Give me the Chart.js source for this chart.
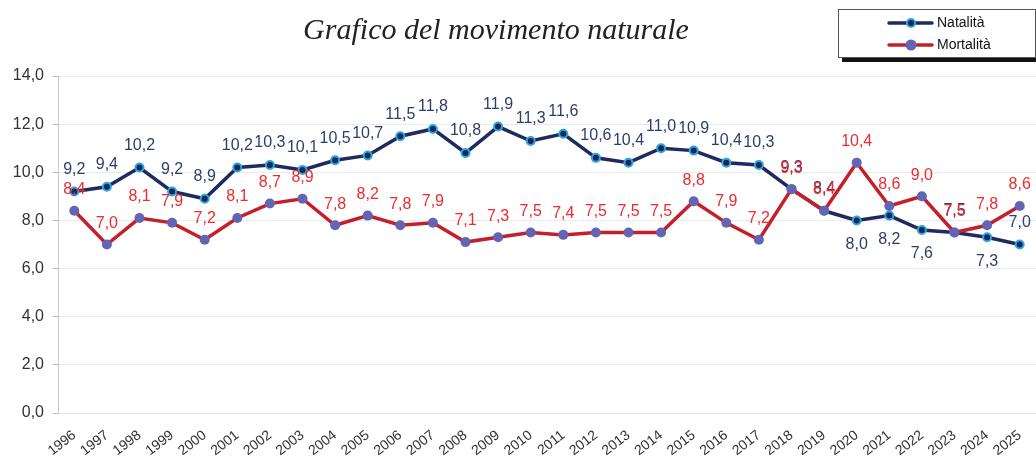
<!DOCTYPE html>
<html lang="it">
<head>
    <meta charset="UTF-8">
    <title>Grafico del movimento naturale</title>
    <script src="https://cdn.jsdelivr.net/npm/chart.js"></script>
    <style>
        body {
            margin: 0;
            padding: 0;
            background: #fff;
        }
        .wrap {
            position: relative;
            width: 1036px;
            height: 459px;
        }
    </style>
</head>
<body>
    <div class="wrap">
        <canvas id="movChart"></canvas>
    </div>

    <script>
        // Data
        const years = ["1996", "1997", "1998", "1999", "2000", "2001", "2002", "2003", "2004", "2005",
            "2006", "2007", "2008", "2009", "2010", "2011", "2012", "2013", "2014", "2015",
            "2016", "2017", "2018", "2019", "2020", "2021", "2022", "2023", "2024", "2025"];

        const natalita = [9.2, 9.4, 10.2, 9.2, 8.9, 10.2, 10.3, 10.1, 10.5, 10.7,
            11.5, 11.8, 10.8, 11.9, 11.3, 11.6, 10.6, 10.4, 11.0, 10.9,
            10.4, 10.3, 9.3, 8.4, 8.0, 8.2, 7.6, 7.5, 7.3, 7.0];

        const mortalita = [8.4, 7.0, 8.1, 7.9, 7.2, 8.1, 8.7, 8.9, 7.8, 8.2,
            7.8, 7.9, 7.1, 7.3, 7.5, 7.4, 7.5, 7.5, 7.5, 8.8,
            7.9, 7.2, 9.3, 8.4, 10.4, 8.6, 9.0, 7.5, 7.8, 8.6];

        // years where the birth-rate label sits under the point
        const natalitaBelow = ["2020", "2021", "2022", "2024"];

        const fmt = v => v.toFixed(1).replace(".", ",");

        // Value labels, title and boxed legend
        const extrasPlugin = {
            id: "extras",
            afterDatasetsDraw(chart) {
                const ctx = chart.ctx;
                ctx.save();
                ctx.font = '16px "Liberation Sans", Arial, sans-serif';
                ctx.textAlign = "center";
                ctx.textBaseline = "middle";

                const metaN = chart.getDatasetMeta(0);
                ctx.fillStyle = "#2b3e6c";
                metaN.data.forEach((pt, i) => {
                    const below = natalitaBelow.includes(years[i]);
                    ctx.fillText(fmt(natalita[i]), pt.x, below ? pt.y + 24 : pt.y - 22);
                });

                const metaM = chart.getDatasetMeta(1);
                ctx.fillStyle = "#ee2b2e";
                metaM.data.forEach((pt, i) => {
                    ctx.fillText(fmt(mortalita[i]), pt.x, pt.y - 21);
                });
                ctx.restore();
            },
            afterDraw(chart) {
                const ctx = chart.ctx;
                ctx.save();

                // title
                ctx.font = 'italic 30px "Liberation Serif", "Times New Roman", serif';
                ctx.fillStyle = "#222";
                ctx.textAlign = "center";
                ctx.textBaseline = "alphabetic";
                ctx.fillText("Grafico del movimento naturale", 496, 39);

                // legend box with shadow
                ctx.fillStyle = "#111";
                ctx.fillRect(842, 57, 194, 5);
                ctx.fillStyle = "#fff";
                ctx.fillRect(838.5, 9.5, 197, 48);
                ctx.strokeStyle = "#555";
                ctx.lineWidth = 1;
                ctx.strokeRect(838.5, 9.5, 197, 48);

                const items = [
                    { text: "Natalità", line: "#1f2a5e", fill: "#1b2557", ring: "#2aa7df", r: 4, y: 23 },
                    { text: "Mortalità", line: "#c4202b", fill: "#6464b4", ring: "#6464b4", r: 4.5, y: 45 }
                ];
                items.forEach(it => {
                    ctx.strokeStyle = it.line;
                    ctx.lineWidth = 3.5;
                    ctx.lineCap = "round";
                    ctx.beginPath();
                    ctx.moveTo(889, it.y);
                    ctx.lineTo(932, it.y);
                    ctx.stroke();
                    ctx.beginPath();
                    ctx.arc(911, it.y, it.r, 0, Math.PI * 2);
                    ctx.fillStyle = it.fill;
                    ctx.fill();
                    ctx.lineWidth = 2;
                    ctx.strokeStyle = it.ring;
                    ctx.stroke();
                    ctx.fillStyle = "#111";
                    ctx.font = '14px "Liberation Sans", Arial, sans-serif';
                    ctx.textAlign = "left";
                    ctx.textBaseline = "middle";
                    ctx.fillText(it.text, 937, it.y);
                });
                ctx.restore();
            }
        };

        const ctx = document.getElementById("movChart").getContext("2d");
        const movChart = new Chart(ctx, {
            type: "line",
            data: {
                labels: years,
                datasets: [
                    {
                        label: "Natalità",
                        data: natalita,
                        borderColor: "#1f2a5e",
                        borderWidth: 3.5,
                        pointRadius: 4,
                        pointBorderWidth: 2,
                        pointBackgroundColor: "#1b2557",
                        pointBorderColor: "#2aa7df",
                        tension: 0,
                        clip: false,
                        order: 2
                    },
                    {
                        label: "Mortalità",
                        data: mortalita,
                        borderColor: "#c4202b",
                        borderWidth: 3.5,
                        pointRadius: 5,
                        pointBorderWidth: 0,
                        pointBackgroundColor: "#6464b4",
                        pointBorderColor: "#6464b4",
                        tension: 0,
                        clip: false,
                        order: 1
                    }
                ]
            },
            options: {
                responsive: true,
                maintainAspectRatio: false,
                animation: false,
                layout: { autoPadding: false, padding: { top: 76, right: 0, left: 0, bottom: 0 } },
                plugins: {
                    legend: { display: false },
                    title: { display: false },
                    tooltip: { enabled: false }
                },
                scales: {
                    x: {
                        offset: true,
                        grid: { display: false },
                        border: { color: "#e6e6e6" },
                        ticks: {
                            color: "#333",
                            font: { family: '"Liberation Sans", Arial, sans-serif', size: 14 },
                            minRotation: 38,
                            maxRotation: 38,
                            autoSkip: false,
                            padding: 6
                        },
                        afterFit(scale) {
                            scale.height = 46;
                            scale.paddingRight = 0;
                        }
                    },
                    y: {
                        min: 0,
                        max: 14,
                        ticks: {
                            stepSize: 2,
                            color: "#333",
                            padding: 9,
                            font: { family: '"Liberation Sans", Arial, sans-serif', size: 16 },
                            callback: v => fmt(v)
                        },
                        grid: { color: "#ebebeb", tickColor: "#bbb", tickLength: 5 },
                        border: { color: "#c8c8c8" },
                        afterFit(scale) { scale.width = 58; }
                    }
                }
            },
            plugins: [extrasPlugin]
        });
    </script>
</body>
</html>
